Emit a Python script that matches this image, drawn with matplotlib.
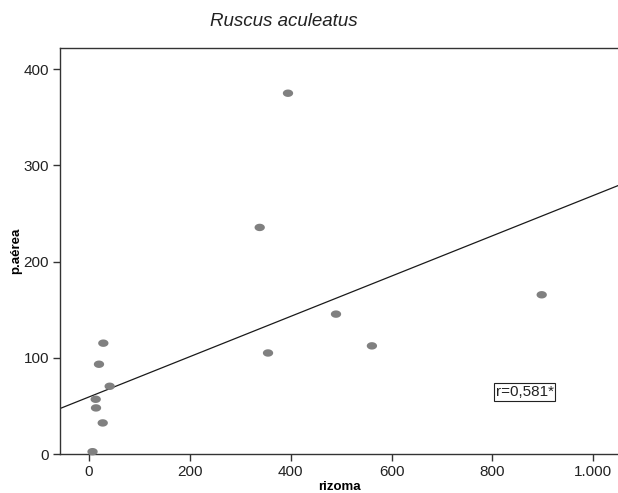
import numpy as np
import matplotlib
matplotlib.use("Agg")
import matplotlib.pyplot as plt
from matplotlib.path import Path
from matplotlib.ticker import FuncFormatter

# Data
rizoma = [7, 28.4, 19.8, 41, 13.3, 13.9, 27.2, 394.6, 338.5, 489.8, 355, 561, 897.7]
p_aerea = [2.4, 115.2, 93.3, 70.4, 56.9, 47.9, 32.3, 375, 235.5, 145.4, 105, 112.4, 165.5]
fit_intercept = 59.3
fit_slope = 0.2094
r_text = "r=0,581*"
x_ticks = [0, 200, 400, 600, 800, 1000]
y_ticks = [0, 100, 200, 300, 400]

plt.rcParams['font.family'] = ['Liberation Sans', 'DejaVu Sans']

fig = plt.figure(figsize=(6.18, 4.93), dpi=100)
ax = fig.add_axes([60/618, 1-454/493, 1-60/618, (454-48)/493])

# ellipse marker (wider than tall)
t = np.linspace(0, 2*np.pi, 60)
verts = np.column_stack([np.cos(t), 0.72*np.sin(t)])
ell = Path(verts, closed=True)

ax.scatter(rizoma, p_aerea, marker=ell, s=55, color='#808080', edgecolors='none', zorder=3, clip_on=False)

xlim = (-57.5, 1049)
xs = np.array(xlim)
ax.plot(xs, fit_intercept + fit_slope*xs, color='#1a1a1a', lw=0.9, zorder=2)

ax.set_xlim(*xlim)
ax.set_ylim(0, 422)
ax.set_xticks(x_ticks)
ax.set_yticks(y_ticks)
ax.xaxis.set_major_formatter(FuncFormatter(lambda v, p: f"{int(v):,}".replace(",", ".")))
ax.tick_params(direction='out', length=5, width=1, colors='#333333', labelsize=11, labelcolor='#222222', pad=3)

for s in ['left', 'bottom', 'top']:
    ax.spines[s].set_color('#333333')
    ax.spines[s].set_linewidth(1)
ax.spines['right'].set_visible(False)

ax.set_xlabel('rizoma', fontsize=9.5, fontweight='bold', labelpad=1)
ax.set_ylabel('p.aérea', fontsize=9.5, fontweight='bold', labelpad=1)

fig.text(284/618, 1-21/493, 'Ruscus aculeatus', fontsize=13.5, style='italic', ha='center', va='center', color='#222222')

ax.text(863.6, 64.7, r_text, fontsize=11, ha='center', va='center', color='#222222',
        bbox=dict(boxstyle='square,pad=0.12', fc='white', ec='#222222', lw=0.8))

fig.savefig('out.png', dpi=100)
